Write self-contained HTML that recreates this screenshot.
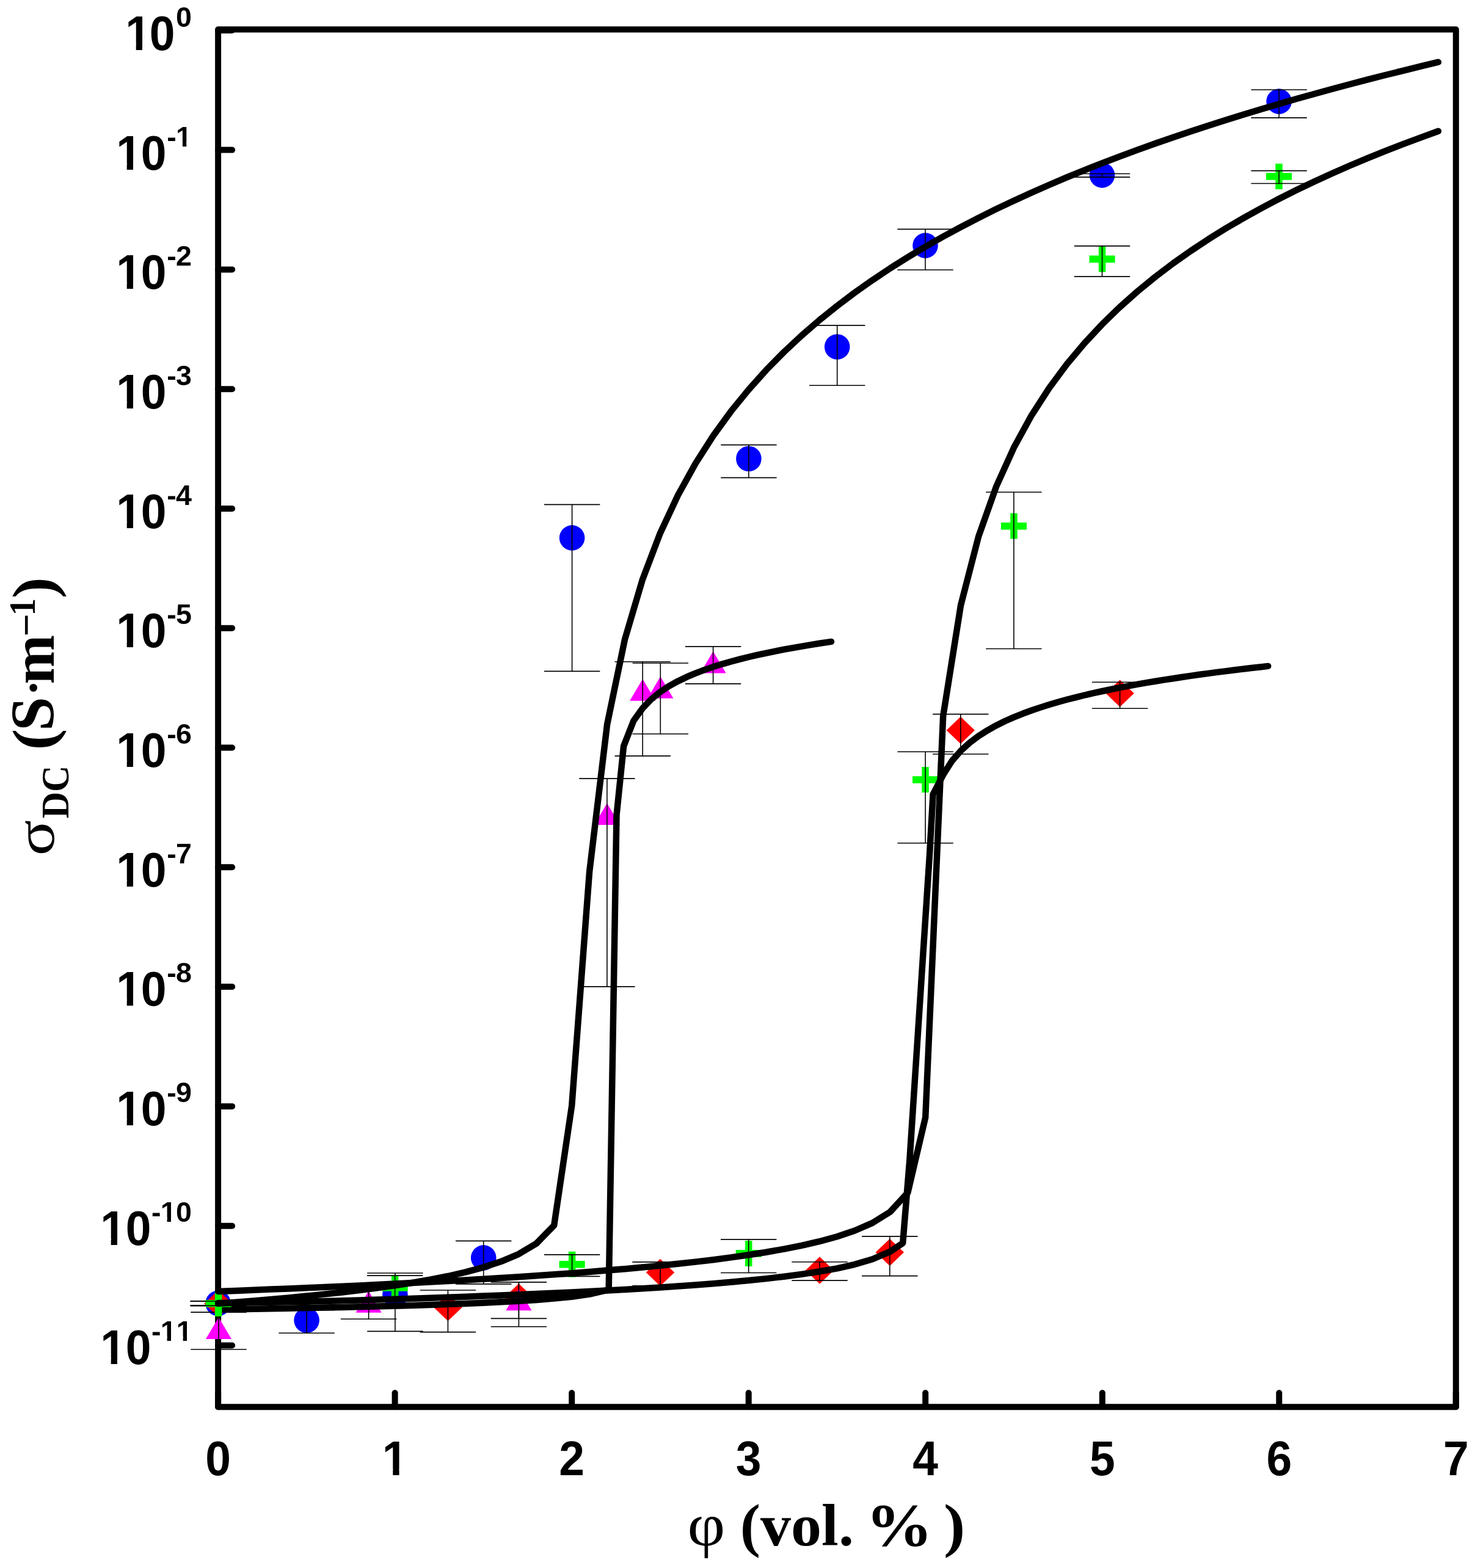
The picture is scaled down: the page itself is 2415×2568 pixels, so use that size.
<!DOCTYPE html>
<html lang="en"><head><meta charset="utf-8">
<title>DC conductivity vs. filler volume fraction</title>
<style>
html,body{margin:0;padding:0;background:#fff;}
body{width:2415px;height:2568px;overflow:hidden;}
svg{display:block;}
text{fill:#000;white-space:pre;}
.tk{font-family:"Liberation Sans",Arial,Helvetica,sans-serif;font-weight:bold;font-size:75px;}
.sp{font-family:"Liberation Sans",Arial,Helvetica,sans-serif;font-weight:bold;font-size:46.6px;}
.ax{font-family:"Liberation Serif","Times New Roman",Times,serif;font-weight:bold;font-size:100px;}
.gr{font-family:"Liberation Serif","Times New Roman",Times,serif;font-weight:normal;font-size:100px;}
.eb{stroke:#000;stroke-width:1.6;fill:none;}
.cv{stroke:#000;stroke-width:10.5;fill:none;stroke-linecap:round;stroke-linejoin:round;}
.fr{stroke:#000;stroke-width:10;fill:none;stroke-linecap:round;stroke-linejoin:round;}
</style></head><body>
<svg width="2415" height="2568" viewBox="0 0 2415 2568">
<rect x="0" y="0" width="2415" height="2568" fill="#fff"/>
<g class="fr">
<path d="M357.1 48.2H2383.8V2304.2H357.1Z"/>
<path d="M357.1 49.8H380.1"/>
<path d="M357.1 245.6H380.1"/>
<path d="M357.1 441.4H380.1"/>
<path d="M357.1 637.2H380.1"/>
<path d="M357.1 833H380.1"/>
<path d="M357.1 1028.8H380.1"/>
<path d="M357.1 1224.5H380.1"/>
<path d="M357.1 1420.3H380.1"/>
<path d="M357.1 1616.1H380.1"/>
<path d="M357.1 1811.9H380.1"/>
<path d="M357.1 2007.7H380.1"/>
<path d="M357.1 2203.5H380.1"/>
<path d="M357.1 2304.2V2281.2"/>
<path d="M646.6 2304.2V2281.2"/>
<path d="M936.2 2304.2V2281.2"/>
<path d="M1225.7 2304.2V2281.2"/>
<path d="M1515.2 2304.2V2281.2"/>
<path d="M1804.8 2304.2V2281.2"/>
<path d="M2094.3 2304.2V2281.2"/>
<path d="M2383.8 2304.2V2281.2"/>
</g>
<text class="tk" transform="translate(0 81.9) scale(1 1.05)" x="205.2 244.7" y="0">10</text>
<text class="sp" x="288" y="44.1">0</text>
<text class="tk" transform="translate(0 277.6) scale(1 1.05)" x="190.2 230.7" y="0">10</text>
<text class="sp" x="273.3 288" y="239.8">-1</text>
<text class="tk" transform="translate(0 473.2) scale(1 1.05)" x="190.2 230.7" y="0">10</text>
<text class="sp" x="273.3 288" y="435.4">-2</text>
<text class="tk" transform="translate(0 668.9) scale(1 1.05)" x="190.2 230.7" y="0">10</text>
<text class="sp" x="273.3 288" y="631.1">-3</text>
<text class="tk" transform="translate(0 864.5) scale(1 1.05)" x="190.2 230.7" y="0">10</text>
<text class="sp" x="273.3 288" y="826.7">-4</text>
<text class="tk" transform="translate(0 1060.2) scale(1 1.05)" x="190.2 230.7" y="0">10</text>
<text class="sp" x="273.3 288" y="1022.4">-5</text>
<text class="tk" transform="translate(0 1255.9) scale(1 1.05)" x="190.2 230.7" y="0">10</text>
<text class="sp" x="273.3 288" y="1218.1">-6</text>
<text class="tk" transform="translate(0 1451.5) scale(1 1.05)" x="190.2 230.7" y="0">10</text>
<text class="sp" x="273.3 288" y="1413.7">-7</text>
<text class="tk" transform="translate(0 1647.2) scale(1 1.05)" x="190.2 230.7" y="0">10</text>
<text class="sp" x="273.3 288" y="1609.4">-8</text>
<text class="tk" transform="translate(0 1842.8) scale(1 1.05)" x="190.2 230.7" y="0">10</text>
<text class="sp" x="273.3 288" y="1805">-9</text>
<text class="tk" transform="translate(0 2038.5) scale(1 1.05)" x="164.2 205.7" y="0">10</text>
<text class="sp" x="248 262.7 288" y="2000.7">-10</text>
<text class="tk" transform="translate(0 2234.2) scale(1 1.05)" x="164.2 205.7" y="0">10</text>
<text class="sp" x="248 262.7 288.8" y="2196.4">-11</text>
<text class="tk" text-anchor="middle" transform="translate(357.1 2416.3) scale(1 1.05)">0</text>
<text class="tk" text-anchor="middle" transform="translate(646.6 2416.3) scale(1 1.05)">1</text>
<text class="tk" text-anchor="middle" transform="translate(936.2 2416.3) scale(1 1.05)">2</text>
<text class="tk" text-anchor="middle" transform="translate(1225.7 2416.3) scale(1 1.05)">3</text>
<text class="tk" text-anchor="middle" transform="translate(1515.2 2416.3) scale(1 1.05)">4</text>
<text class="tk" text-anchor="middle" transform="translate(1804.8 2416.3) scale(1 1.05)">5</text>
<text class="tk" text-anchor="middle" transform="translate(2094.3 2416.3) scale(1 1.05)">6</text>
<text class="tk" text-anchor="middle" transform="translate(2383.8 2416.3) scale(1 1.05)">7</text>
<g fill="#fff"><rect x="208.72" y="71.37" width="13.98" height="11.73"/><rect x="232.99" y="71.37" width="13.03" height="11.73"/><rect x="193.72" y="267.03" width="13.98" height="11.73"/><rect x="217.99" y="267.03" width="13.03" height="11.73"/><rect x="289.74" y="232.51" width="9.14" height="8.45"/><rect x="305.27" y="232.51" width="8.55" height="8.45"/><rect x="193.72" y="462.69" width="13.98" height="11.73"/><rect x="217.99" y="462.69" width="13.03" height="11.73"/><rect x="193.72" y="658.35" width="13.98" height="11.73"/><rect x="217.99" y="658.35" width="13.03" height="11.73"/><rect x="193.72" y="854.01" width="13.98" height="11.73"/><rect x="217.99" y="854.01" width="13.03" height="11.73"/><rect x="193.72" y="1049.67" width="13.98" height="11.73"/><rect x="217.99" y="1049.67" width="13.03" height="11.73"/><rect x="193.72" y="1245.33" width="13.98" height="11.73"/><rect x="217.99" y="1245.33" width="13.03" height="11.73"/><rect x="193.72" y="1440.99" width="13.98" height="11.73"/><rect x="217.99" y="1440.99" width="13.03" height="11.73"/><rect x="193.72" y="1636.65" width="13.98" height="11.73"/><rect x="217.99" y="1636.65" width="13.03" height="11.73"/><rect x="193.72" y="1832.31" width="13.98" height="11.73"/><rect x="217.99" y="1832.31" width="13.03" height="11.73"/><rect x="167.72" y="2027.97" width="13.98" height="11.73"/><rect x="191.99" y="2027.97" width="13.03" height="11.73"/><rect x="264.44" y="1993.45" width="9.14" height="8.45"/><rect x="279.97" y="1993.45" width="8.55" height="8.45"/><rect x="167.72" y="2223.63" width="13.98" height="11.73"/><rect x="191.99" y="2223.63" width="13.03" height="11.73"/><rect x="264.44" y="2189.11" width="9.14" height="8.45"/><rect x="279.97" y="2189.11" width="8.55" height="8.45"/><rect x="290.54" y="2189.11" width="9.14" height="8.45"/><rect x="306.07" y="2189.11" width="8.55" height="8.45"/><rect x="629.3" y="2405.77" width="13.98" height="11.73"/><rect x="653.57" y="2405.77" width="13.03" height="11.73"/></g>
<text class="gr" transform="translate(1125.5 2531.3) scale(1.071 1)">φ </text>
<text class="ax" transform="translate(1211.8 2531.3) scale(1 0.98)">(vol. </text>
<text class="ax" transform="translate(1417.4 2531.3) scale(1.097 1)">% </text>
<text class="ax" transform="translate(1545.0 2531.3) scale(1.06 0.98)">)</text>
<g transform="translate(88 0) rotate(-90)">
<text class="gr" transform="translate(-1401.6 0) scale(1.09 0.91)">σ</text>
<text class="ax" style="font-size:60px" transform="translate(-1340.3 24) scale(1 1.06)">DC </text>
<text class="ax" transform="translate(-1228.4 0) scale(1.05 0.98)">(</text>
<text class="ax" transform="translate(-1197.1 0) scale(1 1.02)">S</text>
<text class="ax" style="font-size:79px" transform="translate(-1139.5 -6.9) scale(1 1)">·</text>
<text class="ax" transform="translate(-1120.5 0) scale(0.97 1)">m</text>
<text class="ax" style="font-size:66px" transform="translate(-1042.4 -23.2) scale(1 1)">−</text>
<text class="ax" style="font-size:62px" transform="translate(-1008.6 -31) scale(0.93 1)">1</text>
<text class="ax" transform="translate(-980.2 0) scale(1.06 0.98)">)</text>
</g>
<g fill="#0000ff">
<circle cx="357.1" cy="2134.5" r="20.8"/>
<circle cx="502.1" cy="2162.3" r="20.8"/>
<circle cx="646.9" cy="2120.2" r="20.8"/>
<circle cx="791.7" cy="2059.9" r="20.8"/>
<circle cx="936.6" cy="880.9" r="20.8"/>
<circle cx="1225.9" cy="751.3" r="20.8"/>
<circle cx="1370.7" cy="568" r="20.8"/>
<circle cx="1515" cy="402.1" r="20.8"/>
<circle cx="1804.5" cy="286.9" r="20.8"/>
<circle cx="2094.1" cy="166.1" r="20.8"/>
</g>
<g class="eb">
<path d="M311.4 2131h91.4M311.4 2138.4h91.4M357.1 2131V2138.4"/>
<path d="M456.4 2145.5h91.4M456.4 2183.3h91.4M502.1 2145.5V2183.3"/>
<path d="M601.2 2085h91.4M601.2 2180.4h91.4M646.9 2085V2180.4"/>
<path d="M746 2032.4h91.4M746 2102.9h91.4M791.7 2032.4V2102.9"/>
<path d="M890.9 826.4h91.4M890.9 1099.4h91.4M936.6 826.4V1099.4"/>
<path d="M1180.2 728.6h91.4M1180.2 782.4h91.4M1225.9 728.6V782.4"/>
<path d="M1325 532.9h91.4M1325 631.3h91.4M1370.7 532.9V631.3"/>
<path d="M1469.3 375.4h91.4M1469.3 442h91.4M1515 375.4V442"/>
<path d="M1758.8 284.5h91.4M1758.8 290.1h91.4M1804.5 284.5V290.1"/>
<path d="M2048.4 147h91.4M2048.4 192.9h91.4M2094.1 147V192.9"/>
</g>
<g fill="#ff0000">
<path d="M334.2 2135L357.4 2112.8L380.6 2135L357.4 2157.2Z"/>
<path d="M710.2 2141.2L733.4 2119L756.6 2141.2L733.4 2163.4Z"/>
<path d="M826.2 2124.4L849.4 2102.2L872.6 2124.4L849.4 2146.6Z"/>
<path d="M1057.8 2084L1081 2061.8L1104.2 2084L1081 2106.2Z"/>
<path d="M1318.8 2080.5L1342 2058.3L1365.2 2080.5L1342 2102.7Z"/>
<path d="M1433.6 2051L1456.8 2028.8L1480 2051L1456.8 2073.2Z"/>
<path d="M1549.6 1196L1572.8 1173.8L1596 1196L1572.8 1218.2Z"/>
<path d="M1810.4 1135.6L1833.6 1113.4L1856.8 1135.6L1833.6 1157.8Z"/>
</g>
<g class="eb">
<path d="M311.7 2131h91.4M311.7 2138.4h91.4M357.4 2131V2138.4"/>
<path d="M687.7 2113h91.4M687.7 2181.6h91.4M733.4 2113V2181.6"/>
<path d="M803.7 2099.8h91.4M803.7 2159.4h91.4M849.4 2099.8V2159.4"/>
<path d="M1035.3 2066.9h91.4M1035.3 2105.9h91.4M1081 2066.9V2105.9"/>
<path d="M1296.3 2066.8h91.4M1296.3 2097.1h91.4M1342 2066.8V2097.1"/>
<path d="M1411.1 2024.9h91.4M1411.1 2089.6h91.4M1456.8 2024.9V2089.6"/>
<path d="M1527.1 1169.6h91.4M1527.1 1235h91.4M1572.8 1169.6V1235"/>
<path d="M1787.9 1117.3h91.4M1787.9 1160.2h91.4M1833.6 1117.3V1160.2"/>
</g>
<g fill="#ff00ff">
<path d="M336.9 2193L358 2157.4L379.1 2193Z"/>
<path d="M582.5 2149.8L603.6 2114.2L624.7 2149.8Z"/>
<path d="M828.3 2146.2L849.4 2110.6L870.5 2146.2Z"/>
<path d="M972.8 1351L993.9 1315.4L1015 1351Z"/>
<path d="M1031.1 1147.7L1052.2 1112.1L1073.3 1147.7Z"/>
<path d="M1060.2 1143.7L1081.3 1108.1L1102.4 1143.7Z"/>
<path d="M1146.5 1102.4L1167.6 1066.8L1188.7 1102.4Z"/>
</g>
<g class="eb">
<path d="M312.3 2149.1h91.4M312.3 2210h91.4M358 2149.1V2210"/>
<path d="M557.9 2110.9h91.4M557.9 2160.2h91.4M603.6 2110.9V2160.2"/>
<path d="M803.7 2099.8h91.4M803.7 2172.8h91.4M849.4 2099.8V2172.8"/>
<path d="M948.2 1275.1h91.4M948.2 1615.9h91.4M993.9 1275.1V1615.9"/>
<path d="M1006.5 1083.7h91.4M1006.5 1238.1h91.4M1052.2 1083.7V1238.1"/>
<path d="M1035.6 1086h91.4M1035.6 1202h91.4M1081.3 1086V1202"/>
<path d="M1121.9 1058.9h91.4M1121.9 1119.9h91.4M1167.6 1058.9V1119.9"/>
</g>
<path class="cv" d="M357.1 2144.7L386.1 2144.2L415 2143.7L444 2143.2L472.9 2142.7L501.9 2142.1L530.8 2141.5L559.8 2140.9L588.7 2140.2L617.7 2139.5L646.6 2138.7L675.6 2137.9L704.5 2137L733.5 2136L762.4 2134.9L791.4 2133.7L820.3 2132.3L849.3 2130.7L878.3 2128.9L907.2 2126.6L936.2 2123.7L965.1 2119.6L994.1 2112.9L996.7 2112L1009.5 1335L1021.1 1222L1037.5 1180.2L1052 1160.1L1066.4 1145L1080.9 1133.3L1095.4 1123.7L1109.9 1115.7L1124.4 1108.7L1138.8 1102.6L1153.3 1097.1L1167.8 1092.1L1182.3 1087.6L1196.7 1083.5L1211.2 1079.6L1225.7 1076L1240.2 1072.7L1254.6 1069.5L1269.1 1066.6L1283.6 1063.7L1298.1 1061.1L1312.5 1058.6L1327 1056.1L1341.5 1053.8L1356 1051.6L1361 1050.9"/>
<g fill="#00ff00">
<path d="M351.8 2113.9h11.5v15.2h15.3v11.6h-15.3v15.2h-11.5v-15.2h-15.3v-11.6h15.3Z"/>
<path d="M640.9 2087.9h11.5v15.2h15.3v11.6h-15.3v15.2h-11.5v-15.2h-15.3v-11.6h15.3Z"/>
<path d="M930.9 2049.8h11.5v15.2h15.3v11.6h-15.3v15.2h-11.5v-15.2h-15.3v-11.6h15.3Z"/>
<path d="M1220 2031.9h11.5v15.2h15.3v11.6h-15.3v15.2h-11.5v-15.2h-15.3v-11.6h15.3Z"/>
<path d="M1509.3 1256h11.5v15.2h15.3v11.6h-15.3v15.2h-11.5v-15.2h-15.3v-11.6h15.3Z"/>
<path d="M1654.2 840.6h11.5v15.2h15.3v11.6h-15.3v15.2h-11.5v-15.2h-15.3v-11.6h15.3Z"/>
<path d="M1798.8 403.4h11.5v15.2h15.3v11.6h-15.3v15.2h-11.5v-15.2h-15.3v-11.6h15.3Z"/>
<path d="M2088.3 268h11.5v15.2h15.3v11.6h-15.3v15.2h-11.5v-15.2h-15.3v-11.6h15.3Z"/>
</g>
<g class="eb">
<path d="M311.8 2131h91.4M311.8 2138.4h91.4M357.5 2131V2138.4"/>
<path d="M600.9 2089.1h91.4M600.9 2139.5h91.4M646.6 2089.1V2139.5"/>
<path d="M890.9 2054.9h91.4M890.9 2090.4h91.4M936.6 2054.9V2090.4"/>
<path d="M1180 2029.9h91.4M1180 2084.5h91.4M1225.7 2029.9V2084.5"/>
<path d="M1469.4 1231.2h91.4M1469.4 1380.7h91.4M1515.1 1231.2V1380.7"/>
<path d="M1614.2 806h91.4M1614.2 1062.5h91.4M1659.9 806V1062.5"/>
<path d="M1758.8 402.9h91.4M1758.8 452.9h91.4M1804.5 402.9V452.9"/>
<path d="M2048.4 279.6h91.4M2048.4 300.5h91.4M2094.1 279.6V300.5"/>
</g>
<g class="cv">
<path d="M357.1 2134.9L386.1 2132.7L415 2130.4L444 2127.9L472.9 2125.4L501.9 2122.6L530.8 2119.6L559.8 2116.5L588.7 2113.1L617.7 2109.3L646.6 2105.3L675.6 2100.8L704.5 2095.7L733.5 2090L762.4 2083.4L791.4 2075.6L820.3 2066.1L849.3 2053.8L878.3 2036.5L907.2 2006.8L936.2 1811L965.1 1427.7L994.1 1186.4L1023 1047.2L1052 949.1L1080.9 873.2L1109.9 811.2L1138.8 759L1167.8 713.7L1196.7 673.8L1225.7 638.2L1254.6 605.9L1283.6 576.5L1312.5 549.5L1341.5 524.4L1370.5 501.1L1399.4 479.3L1428.4 458.8L1457.3 439.5L1486.3 421.3L1515.2 404L1544.2 387.5L1573.1 371.8L1602.1 356.8L1631 342.4L1660 328.7L1688.9 315.4L1717.9 302.7L1746.8 290.4L1775.8 278.6L1804.8 267.2L1833.7 256.1L1862.7 245.4L1891.6 235L1920.6 225L1949.5 215.2L1978.5 205.7L2007.4 196.4L2036.4 187.4L2065.3 178.7L2094.3 170.2L2123.2 161.8L2152.2 153.7L2181.1 145.8L2210.1 138L2239 130.4L2268 123L2297 115.8L2325.9 108.7L2354.9 101.7"/>
<path d="M357.1 2134.1L386.1 2133.7L415 2133.2L444 2132.7L472.9 2132.2L501.9 2131.7L530.8 2131.1L559.8 2130.3L588.7 2129.4L617.7 2128.6L646.6 2127.7L675.6 2126.7L704.5 2125.7L733.5 2124.7L762.4 2123.7L791.4 2122.6L820.3 2121.5L849.3 2120.3L878.3 2119.1L907.2 2117.8L936.2 2116.4L965.1 2115L994.1 2113.5L1023 2111.9L1052 2110.2L1080.9 2108.4L1109.9 2106.5L1138.8 2104.4L1167.8 2102.2L1196.7 2099.7L1225.7 2097L1254.6 2094.1L1283.6 2090.7L1312.5 2086.9L1341.5 2082.5L1370.5 2077.3L1399.4 2070.8L1428.4 2062.3L1457.3 2049.9L1478.2 2035.8L1489.3 1900L1522 1400L1527.6 1301L1544.2 1269L1558.6 1246.2L1573.1 1229.6L1587.6 1216.4L1602.1 1205.5L1616.6 1196.3L1631 1188.2L1645.5 1181L1660 1174.6L1674.5 1168.8L1688.9 1163.5L1703.4 1158.6L1717.9 1154L1732.4 1149.8L1746.8 1145.8L1761.3 1142.1L1775.8 1138.5L1790.3 1135.2L1804.8 1132L1819.2 1129L1833.7 1126.1L1848.2 1123.4L1862.7 1120.7L1877.1 1118.2L1891.6 1115.8L1906.1 1113.4L1920.6 1111.2L1935 1109L1949.5 1106.9L1964 1104.8L1978.5 1102.9L1992.9 1100.9L2007.4 1099.1L2021.9 1097.3L2036.4 1095.5L2050.9 1093.8L2065.3 1092.2L2076.2 1090.9"/>
<path d="M357.1 2114.9L386.1 2113.9L415 2112.7L444 2111.6L472.9 2110.4L501.9 2109.2L530.8 2108L559.8 2106.7L588.7 2105.4L617.7 2104L646.6 2102.6L675.6 2101.1L704.5 2099.6L733.5 2098.1L762.4 2096.4L791.4 2094.8L820.3 2093L849.3 2091.2L878.3 2089.3L907.2 2087.3L936.2 2085.2L965.1 2083L994.1 2080.6L1023 2078.2L1052 2075.6L1080.9 2072.8L1109.9 2069.8L1138.8 2066.6L1167.8 2063.2L1196.7 2059.4L1225.7 2055.3L1254.6 2050.7L1283.6 2045.6L1312.5 2039.9L1341.5 2033.2L1370.5 2025.2L1399.4 2015.5L1428.4 2002.9L1457.3 1984.9L1486.3 1953.3L1515.2 1830L1544.2 1172.5L1573.1 991.1L1602.1 878.8L1631 797.2L1660 733.1L1688.9 680.3L1717.9 635.4L1746.8 596.4L1775.8 561.8L1804.8 530.8L1833.7 502.7L1862.7 477L1891.6 453.4L1920.6 431.4L1949.5 411L1978.5 391.8L2007.4 373.8L2036.4 356.9L2065.3 340.8L2094.3 325.5L2123.2 311L2152.2 297.2L2181.1 283.9L2210.1 271.2L2239 259.1L2268 247.4L2297 236.1L2325.9 225.3L2354.9 214.8"/>
</g>
</svg>
</body></html>
